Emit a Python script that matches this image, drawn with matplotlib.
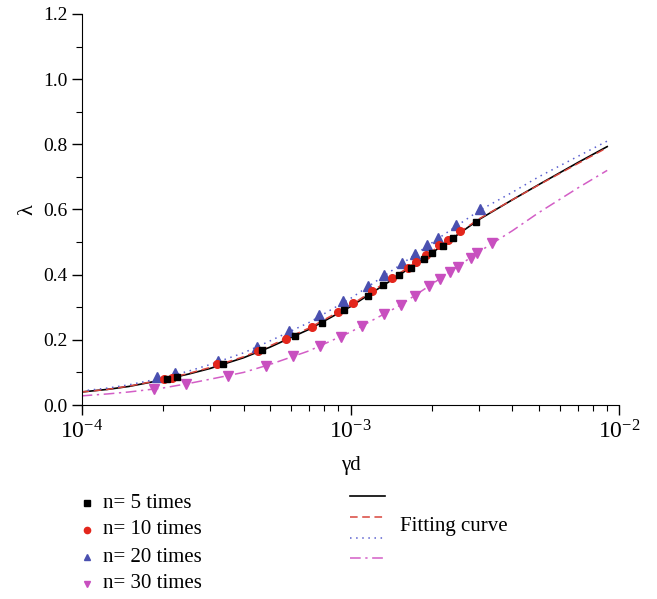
import numpy as np
import matplotlib
matplotlib.use("Agg")
import matplotlib.pyplot as plt
from matplotlib.lines import Line2D
from matplotlib.ticker import LogLocator, MultipleLocator, LogFormatterSciNotation

plt.rcParams['font.family'] = ['Liberation Serif', 'DejaVu Serif']
plt.rcParams['mathtext.fontset'] = 'stix'

# measured points
x5 = [2.07e-4, 2.27e-4, 3.35e-4, 4.70e-4, 6.23e-4, 7.85e-4, 9.47e-4, 1.164e-3,
      1.323e-3, 1.517e-3, 1.673e-3, 1.870e-3, 2.007e-3, 2.206e-3, 2.397e-3, 2.926e-3]
y5 = [0.080, 0.087, 0.125, 0.169, 0.212, 0.253, 0.292, 0.335,
      0.367, 0.399, 0.420, 0.449, 0.467, 0.488, 0.512, 0.563]

x10 = [2.02e-4, 2.17e-4, 3.19e-4, 4.53e-4, 5.75e-4, 7.19e-4, 8.98e-4, 1.018e-3,
       1.202e-3, 1.425e-3, 1.635e-3, 1.751e-3, 1.907e-3, 2.132e-3, 2.296e-3, 2.551e-3]
y10 = [0.080, 0.084, 0.127, 0.167, 0.203, 0.240, 0.286, 0.312,
       0.350, 0.389, 0.420, 0.438, 0.460, 0.490, 0.506, 0.534]

x20 = [1.902e-4, 2.225e-4, 3.22e-4, 4.48e-4, 5.92e-4, 7.65e-4, 9.40e-4, 1.164e-3,
       1.331e-3, 1.549e-3, 1.736e-3, 1.923e-3, 2.113e-3, 2.465e-3, 3.04e-3]
y20 = [0.087, 0.099, 0.136, 0.179, 0.227, 0.276, 0.318, 0.366,
       0.398, 0.436, 0.464, 0.490, 0.513, 0.552, 0.603]

x30 = [1.859e-4, 2.444e-4, 3.51e-4, 4.85e-4, 6.12e-4, 7.70e-4, 9.25e-4, 1.105e-3,
       1.331e-3, 1.540e-3, 1.743e-3, 1.962e-3, 2.159e-3, 2.342e-3, 2.518e-3,
       2.803e-3, 2.963e-3, 3.37e-3]
y30 = [0.048, 0.064, 0.089, 0.121, 0.149, 0.180, 0.210, 0.242,
       0.278, 0.308, 0.336, 0.364, 0.387, 0.407, 0.424,
       0.452, 0.465, 0.497]

# fitting curves
xf = [1e-4, 1.25e-4, 1.5e-4, 2e-4, 2.5e-4, 3e-4, 4e-4, 5e-4, 7e-4, 1e-3, 1.5e-3,
      2e-3, 3e-3, 4e-3, 5e-3, 7e-3, 9e-3]
f5 = [0.040, 0.048, 0.057, 0.077, 0.095, 0.112, 0.145, 0.177, 0.232, 0.302, 0.396,
      0.466, 0.569, 0.630, 0.676, 0.744, 0.793]
f10 = [0.040, 0.048, 0.058, 0.078, 0.097, 0.115, 0.148, 0.181, 0.236, 0.306, 0.401,
       0.471, 0.571, 0.630, 0.675, 0.741, 0.790]
f20 = [0.043, 0.052, 0.062, 0.083, 0.104, 0.124, 0.160, 0.196, 0.253, 0.327, 0.425,
       0.497, 0.596, 0.653, 0.700, 0.763, 0.810]
f30 = [0.028, 0.034, 0.040, 0.052, 0.066, 0.079, 0.100, 0.124, 0.166, 0.224, 0.302,
       0.370, 0.470, 0.535, 0.590, 0.666, 0.720]

labels = ["n= 5 times", "n= 10 times", "n= 20 times", "n= 30 times"]

c_blk = "black"
c_red = "#e3261c"
c_blu = "#4a50b0"
c_mag = "#c84fbf"
l_red = "#d9453c"
l_blu = "#5a60d0"
l_mag = "#d35ec6"
ls_red = (0, (5, 3))
ls_blu = (0, (1, 3))
ls_mag = (0, (7, 3, 1.5, 3))

W, H = 657, 599
fig = plt.figure(figsize=(W / 100, H / 100), dpi=100)
ax = fig.add_axes([81.6 / W, 1 - 405 / H, (619.5 - 81.6) / W, (405 - 14) / H])

ax.plot(xf, f5, color=c_blk, lw=1.2, ls='-')
ax.plot(xf, f10, color=l_red, lw=1.1, ls=ls_red)
ax.plot(xf, f20, color=l_blu, lw=1.1, ls=ls_blu)
ax.plot(xf, f30, color=l_mag, lw=1.1, ls=ls_mag)

ax.plot(x5, y5, 's', color=c_blk, ms=4.5, zorder=5)
ax.plot(x10, y10, 'o', color=c_red, ms=5.5, zorder=4)
ax.plot(x20, y20, '^', color=c_blu, ms=6.5, zorder=3)
ax.plot(x30, y30, 'v', color=c_mag, ms=6.5, zorder=3)

ax.set_xscale('log')
ax.set_xlim(1e-4, 1e-2)
ax.set_ylim(0, 1.2)
ax.xaxis.set_major_locator(LogLocator(base=10, numticks=5))
ax.xaxis.set_major_formatter(LogFormatterSciNotation())
ax.yaxis.set_major_locator(MultipleLocator(0.2))
ax.yaxis.set_major_formatter(plt.FormatStrFormatter('%.1f'))
ax.minorticks_on()
ax.xaxis.set_minor_locator(LogLocator(base=10, subs=np.arange(2, 10), numticks=20))
ax.yaxis.set_minor_locator(MultipleLocator(0.1))

ax.spines['top'].set_visible(False)
ax.spines['right'].set_visible(False)
ax.tick_params(which='major', direction='out', length=7, width=1, labelsize=14, pad=3)
ax.tick_params(which='minor', direction='out', length=4, width=0.8)
ax.tick_params(axis='x', which='major', labelsize=17, pad=4)

ax.set_xlabel("γd", fontsize=15, labelpad=9)
ax.set_ylabel("λ", fontsize=16, labelpad=4)

# legend, drawn by hand in pixel coordinates
def fx(px):
    return px / W

def fy(py):
    return 1 - py / H

rows = [503, 530, 557, 584]
mk = [('s', c_blk, 4), ('o', c_red, 4.5), ('^', c_blu, 5), ('v', c_mag, 5)]
for (m, c, s), lab, r in zip(mk, labels, rows):
    fig.add_artist(Line2D([fx(87)], [fy(r)], marker=m, color=c, ms=s, ls='none',
                          transform=fig.transFigure))
    fig.text(fx(103), fy(r), lab, fontsize=15, va='center', ha='left')

lrows = [496, 517, 538, 558]
lst = [(c_blk, '-', 1.2), (l_red, ls_red, 1.1), (l_blu, ls_blu, 1.1), (l_mag, ls_mag, 1.1)]
for (c, s, w), r in zip(lst, lrows):
    fig.add_artist(Line2D([fx(350), fx(385)], [fy(r), fy(r)], color=c, ls=s, lw=w,
                          transform=fig.transFigure))
fig.text(fx(400), fy(527), "Fitting curve", fontsize=15, va='center', ha='left')

fig.savefig("out.png", dpi=100)
